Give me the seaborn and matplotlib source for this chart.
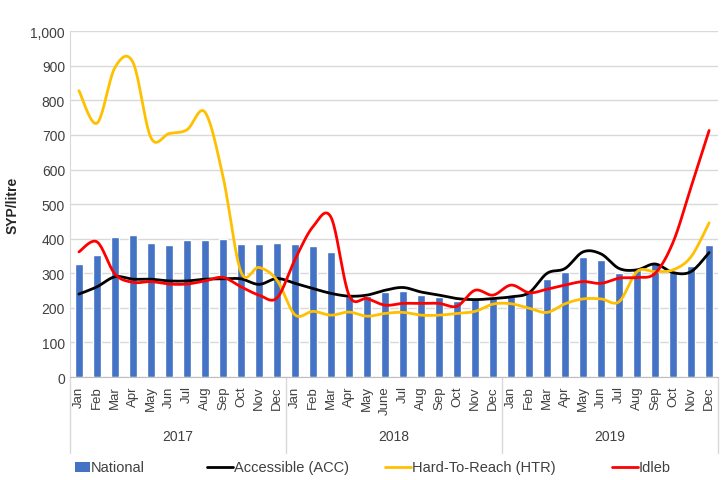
# Import libraries =============================================================
import numpy as np
import pandas as pd
import matplotlib
matplotlib.use('Agg')
import matplotlib.pyplot as plt
import matplotlib.transforms as mtransforms
from matplotlib.patches import Rectangle
from matplotlib.lines import Line2D
import seaborn as sns

# Data =========================================================================
years = ['2017', '2018', '2019']
months_2017 = ['Jan', 'Feb', 'Mar', 'Apr', 'May', 'Jun', 'Jul', 'Aug', 'Sep',
               'Oct', 'Nov', 'Dec']
months_2018 = ['Jan', 'Feb', 'Mar', 'Apr', 'May', 'June', 'Jul', 'Aug', 'Sep',
               'Oct', 'Nov', 'Dec']
months_2019 = months_2017
month_labels = months_2017 + months_2018 + months_2019

national = [327, 353, 404, 410, 387, 382, 395, 396, 399, 386, 386, 388,
            384, 379, 361, 235, 235, 246, 249, 238, 231, 221, 225, 228,
            235, 245, 283, 303, 348, 338, 301, 309, 329, 307, 322, 383]
accessible = [240, 261, 290, 283, 283, 278, 278, 283, 284, 284, 268, 285,
              271, 256, 242, 234, 237, 251, 259, 246, 237, 227, 224, 227,
              232, 244, 300, 314, 362, 356, 314, 310, 327, 302, 305, 360]
hard_to_reach = [828, 734, 895, 910, 692, 704, 715, 766, 580, 304, 317, 280,
                 180, 190, 179, 188, 176, 184, 187, 179, 179, 184, 190, 211,
                 212, 199, 187, 212, 226, 226, 218, 305, 305, 310, 348, 446]
idleb = [362, 391, 298, 274, 276, 269, 269, 278, 288, 261, 237, 229,
         340, 435, 462, 237, 227, 208, 213, 213, 213, 205, 251, 237,
         266, 244, 254, 266, 276, 271, 286, 288, 300, 390, 550, 713]

series_names = ['Accessible (ACC)', 'Hard-To-Reach (HTR)', 'Idleb']
series_values = [accessible, hard_to_reach, idleb]
series_colors = ['#000000', '#FFC000', '#FF0000']
bar_color = '#4472C4'


# Smooth line like the spreadsheet "smoothed line" option =====================
def smooth_curve(values, steps=20):
    y = np.asarray(values, dtype=float)
    x = np.arange(len(y), dtype=float)
    xp = np.concatenate([[x[0]], x, [x[-1]]])
    yp = np.concatenate([[y[0]], y, [y[-1]]])
    xs, ys = [], []
    t = np.linspace(0, 1, steps, endpoint=False)
    for i in range(1, len(xp) - 2):
        p0 = np.array([xp[i - 1], yp[i - 1]])
        p1 = np.array([xp[i], yp[i]])
        p2 = np.array([xp[i + 1], yp[i + 1]])
        p3 = np.array([xp[i + 2], yp[i + 2]])
        c1 = p1 + (p2 - p0) / 6
        c2 = p2 - (p3 - p1) / 6
        for tt in t:
            b = ((1 - tt) ** 3) * p1 + 3 * ((1 - tt) ** 2) * tt * c1 \
                + 3 * (1 - tt) * tt ** 2 * c2 + tt ** 3 * p2
            xs.append(b[0])
            ys.append(b[1])
    xs.append(x[-1])
    ys.append(y[-1])
    return np.array(xs), np.array(ys)


# Plotting =====================================================================
sns.set_style('white')
plt.rcParams['font.family'] = ['Liberation Sans', 'DejaVu Sans']

W, H = 721, 481
fig = plt.figure(figsize=(W / 100, H / 100), dpi=100)
ax = fig.add_axes([0.097, 0.214, 0.899, 0.719])

df_bar = pd.DataFrame({'idx': np.arange(len(national)), 'value': national})
sns.barplot(data=df_bar, x='idx', y='value', color=bar_color, width=0.42,
            saturation=1, ax=ax, zorder=2)

for name, vals, col in zip(series_names, series_values, series_colors):
    xs, ys = smooth_curve(vals)
    sns.lineplot(x=xs, y=ys, sort=False, color=col, linewidth=2, ax=ax,
                 zorder=3)

# Axes cosmetics ===============================================================
ax.set_ylim(0, 1000)
ax.set_xlim(-0.5, len(national) - 0.5)
ax.set_yticks(np.arange(0, 1001, 100))
ax.set_yticklabels([f'{v:,}' for v in range(0, 1001, 100)], fontsize=10,
                   color='#404040')
ax.yaxis.grid(True, color='#D9D9D9', linewidth=1)
ax.set_axisbelow(True)
for side in ['top', 'right']:
    ax.spines[side].set_visible(False)
ax.spines['left'].set_color('#D9D9D9')
ax.spines['bottom'].set_color('#BFBFBF')
ax.set_ylabel('SYP/litre', fontsize=10, fontweight='bold', labelpad=8)
ax.set_xlabel('')

ax.set_xticks(np.arange(len(month_labels)))
ax.set_xticklabels(month_labels, rotation=90, fontsize=9.5, color='#404040')
ax.tick_params(axis='x', length=0, pad=6)
ax.tick_params(axis='y', length=0)

# Year level of the category axis =============================================
trans = mtransforms.blended_transform_factory(ax.transData, ax.transAxes)
for k, yr in enumerate(years):
    ax.text(k * 12 + 5.5, -0.17, yr, transform=trans, ha='center',
            va='center', fontsize=10, color='#404040')
for b in [-0.5, 11.5, 23.5, 35.5]:
    ax.plot([b, b], [0, -0.22], transform=trans, color='#D9D9D9',
            linewidth=1, clip_on=False)

# Legend (placed item by item, like the spreadsheet legend) ====================
legend_y = 1 - 468 / H
fig.add_artist(Rectangle((75 / W, legend_y - 5 / H), 15 / W, 10 / H,
                         transform=fig.transFigure, facecolor=bar_color,
                         edgecolor='none'))
fig.text(91 / W, legend_y, 'National', ha='left', va='center', fontsize=10.5,
         color='#404040')
line_starts = [207, 385, 612]
for x0, name, col in zip(line_starts, series_names, series_colors):
    fig.add_artist(Line2D([x0 / W, (x0 + 26) / W], [legend_y, legend_y],
                          transform=fig.transFigure, color=col, linewidth=2))
    fig.text((x0 + 27) / W, legend_y, name, ha='left', va='center',
             fontsize=10.5, color='#404040')

fig.savefig('out.png', dpi=100)
